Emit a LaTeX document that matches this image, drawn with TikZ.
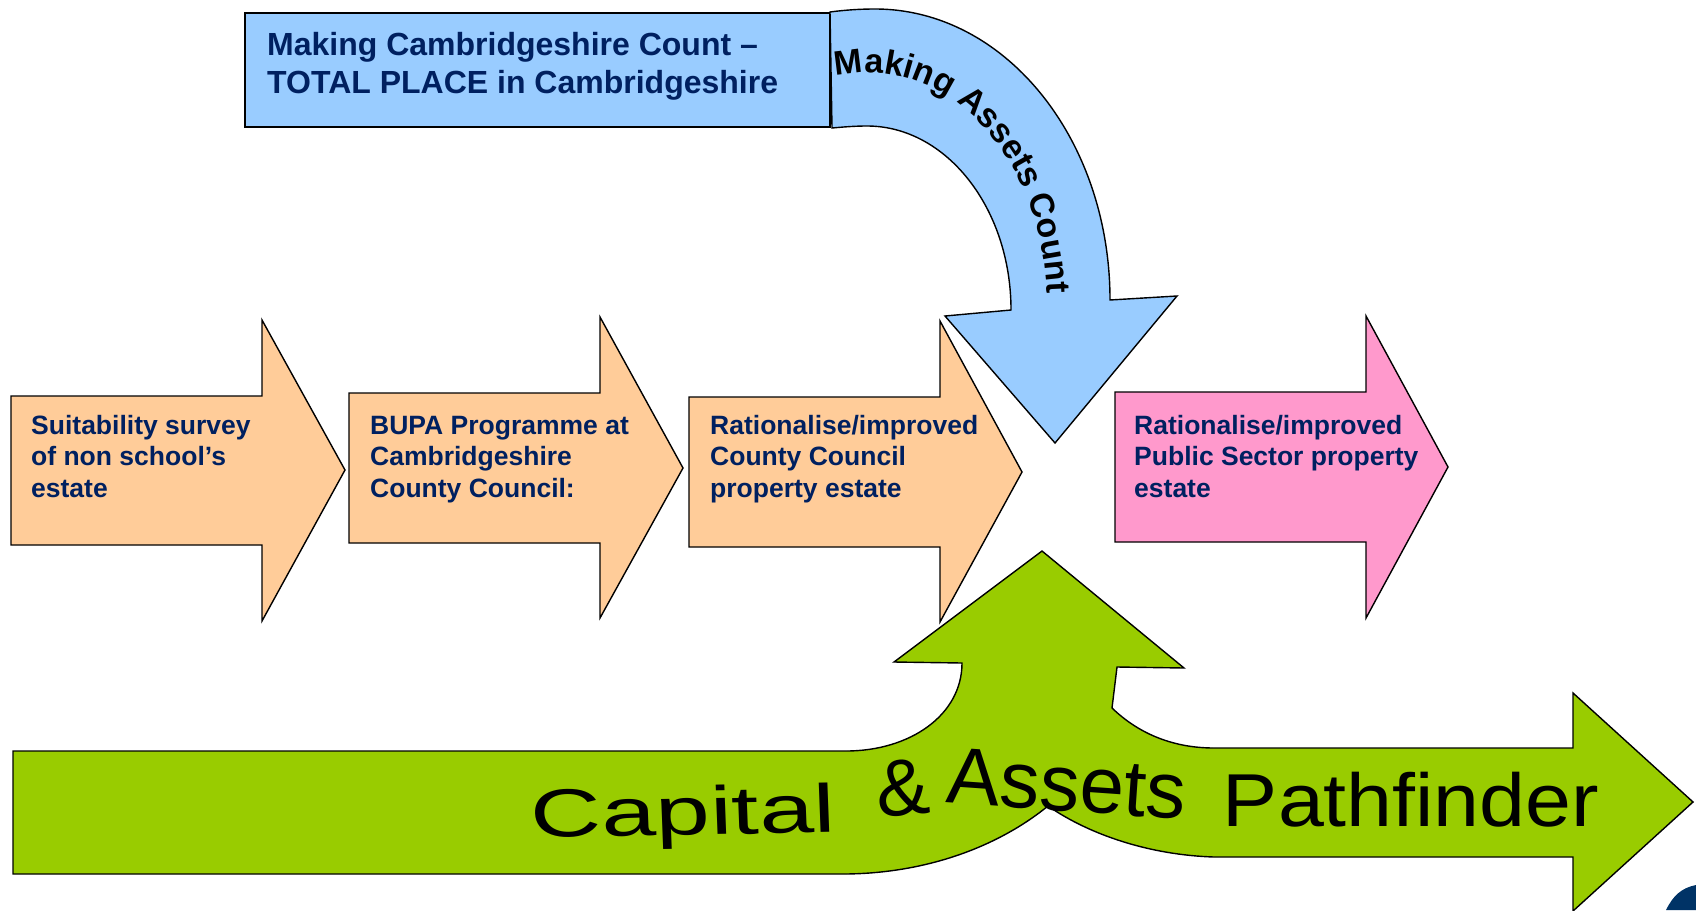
\documentclass[tikz,border=0pt]{standalone}
\usepackage{fontspec}
\setmainfont{Liberation Sans}
\usetikzlibrary{decorations.text}
\definecolor{orangefill}{RGB}{255,204,153}
\definecolor{bluefill}{RGB}{153,204,255}
\definecolor{pinkfill}{RGB}{255,153,204}
\definecolor{greenfill}{RGB}{153,204,0}
\definecolor{navytext}{RGB}{0,32,96}
\definecolor{logoblue}{RGB}{0,51,102}
\begin{document}
\begin{tikzpicture}[x=1pt,y=-1pt,
  shapeline/.style={draw=black,line width=1.4pt,line join=miter},
  boxtext/.style={anchor=base west,inner sep=0pt,align=left,text=navytext,
    font=\fontsize{26.5}{31.5}\selectfont\bfseries},
  toptext/.style={anchor=base west,inner sep=0pt,align=left,text=navytext,
    font=\fontsize{32}{38}\selectfont\bfseries},
  bigtext/.style={inner sep=0pt,anchor=base,text=black}]
\useasboundingbox (0,0) rectangle (1696,910);
\fill[white] (0,0) rectangle (1696,910);

% orange process arrows
\draw[shapeline,fill=orangefill] (11,396) -- (262,396) -- (262,320) -- (345,470) -- (262,621) -- (262,545) -- (11,545) -- cycle;
\draw[shapeline,fill=orangefill] (349,393) -- (600,393) -- (600,317) -- (683,468) -- (600,618) -- (600,543) -- (349,543) -- cycle;
\draw[shapeline,fill=orangefill] (689,397) -- (940,397) -- (940,321) -- (1022,472) -- (940,622) -- (940,547) -- (689,547) -- cycle;
% pink arrow
\draw[shapeline,fill=pinkfill] (1115,392) -- (1366,392) -- (1366,316) -- (1448,467) -- (1366,618) -- (1366,542) -- (1115,542) -- cycle;

% multi-line nodes: base anchor = baseline of last line
\node[boxtext] (survey) at (31,497) {Suitability survey\\of non school’s\\estate};
\node[boxtext] (bupa) at (370,497) {BUPA Programme at\\Cambridgeshire\\County Council:};
\node[boxtext] (county) at (710,497) {Rationalise/improved\\County Council\\property estate};
\node[boxtext] (public) at (1134,497) {Rationalise/improved\\Public Sector property\\estate};

% top box
\draw[shapeline,fill=bluefill] (245,13) rectangle (830,127);
\node[toptext] (total) at (267,93) {Making Cambridgeshire Count –\\TOTAL PLACE in Cambridgeshire};

% curved blue arrow
\draw[shapeline,fill=bluefill] (830,12) .. controls (845,10) and (860,9) .. (875,9)
  .. controls (1005,9) and (1110,139) .. (1110,300) -- (1177,296) -- (1055,443) -- (945,316) -- (1011,310)
  .. controls (1011,208) and (946,126) .. (867,126) .. controls (855,126) and (843,127) .. (832,128) -- cycle;
\path[decorate,decoration={text along path,text align=left,
  text={|\fontsize{34}{40}\selectfont\bfseries|Making Assets Count}}]
  (836,76) arc[start angle=-100,end angle=15,x radius=180,y radius=230];

% green arrow
\draw[shapeline,fill=greenfill] (13,751) -- (846,751)
  .. controls (910,751) and (962,715) .. (962,663) -- (894,662) -- (1042,551) -- (1184,668) -- (1117,667) -- (1112,708)
  .. controls (1140,735) and (1175,748) .. (1214,748) -- (1573,748) -- (1573,693) -- (1693,802) -- (1573,911) -- (1573,857)
  -- (1214,857) .. controls (1150,855) and (1090,835) .. (1048,806)
  .. controls (1000,845) and (930,873) .. (846,874) -- (13,874) -- cycle;

\node[bigtext,font=\fontsize{68}{68}\selectfont,xscale=1.44,rotate=1.5] (capital) at (684,835) {Capital};
\node[bigtext,font=\fontsize{80}{80}\selectfont,rotate=5] (amp) at (905,815) {\&};
\node[bigtext,font=\fontsize{80}{80}\selectfont,rotate=-4] (assets) at (1065,811) {Assets};
\node[bigtext,font=\fontsize{75}{75}\selectfont,xscale=1.1] (pathfinder) at (1411,826) {Pathfinder};

% logo fragment in corner
\fill[logoblue] (1666,910) .. controls (1673,896) and (1681,888) .. (1696,885) -- (1696,910) -- cycle;
\end{tikzpicture}
\end{document}
